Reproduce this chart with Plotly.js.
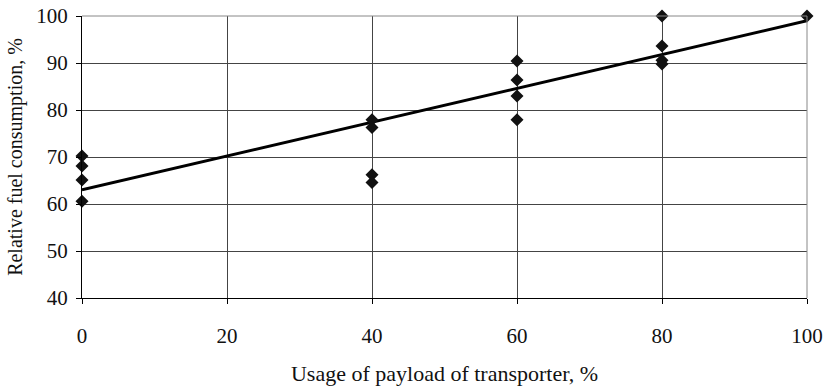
<!DOCTYPE html>
<html>
<head>
<meta charset="utf-8">
<script src="https://cdn.plot.ly/plotly-3.0.1.min.js"></script>
<style>
  html, body { margin: 0; padding: 0; background: #fff; }
  #chart { width: 824px; height: 386px; }
</style>
</head>
<body>
<div id="chart"></div>
<script>
// Measured points: payload usage (%) vs relative fuel consumption (%)
var payloadUsage = [0, 0, 0, 0, 40, 40, 40, 40, 60, 60, 60, 60, 80, 80, 80, 80, 100];
var fuelConsumption = [70.2, 68.1, 65.1, 60.6, 77.9, 76.3, 66.2, 64.6, 90.4, 86.4, 83.0, 77.9, 100, 93.6, 90.6, 89.8, 100];

// Linear trend line endpoints
var trendX = [0, 100];
var trendY = [63.0, 99.0];

// Axis ticks
var xTicks = [0, 20, 40, 60, 80, 100];
var yTicks = [40, 50, 60, 70, 80, 90, 100];

var serif = "Liberation Serif, Times New Roman, serif";

var traces = [
  {
    x: trendX, y: trendY, type: "scatter", mode: "lines",
    line: { color: "#000", width: 3 }, hoverinfo: "skip", cliponaxis: false
  },
  {
    x: payloadUsage, y: fuelConsumption, type: "scatter", mode: "markers",
    marker: { symbol: "diamond", size: 10, color: "#111" }, cliponaxis: false
  }
];

var layout = {
  width: 824, height: 386,
  margin: { l: 82, r: 17, t: 16, b: 88 },
  paper_bgcolor: "#fff", plot_bgcolor: "#fff",
  showlegend: false,
  font: { family: serif, size: 21, color: "#111" },
  xaxis: {
    range: [0, 100], tickvals: xTicks, ticktext: xTicks.map(String),
    showgrid: true, gridcolor: "#444", gridwidth: 1,
    showline: true, linecolor: "#000", linewidth: 1, mirror: false,
    ticks: "outside", ticklen: 5, tickcolor: "#000", ticklabelstandoff: 14,
    zeroline: false,
    title: { text: "Usage of payload of transporter, %", standoff: 22, font: { family: serif, size: 22 } }
  },
  yaxis: {
    range: [40, 100], tickvals: yTicks, ticktext: yTicks.map(String),
    showgrid: true, gridcolor: "#444", gridwidth: 1,
    showline: true, linecolor: "#000", linewidth: 1,
    ticks: "outside", ticklen: 5, tickcolor: "#000", ticklabelstandoff: 4,
    zeroline: false,
    title: { text: "Relative fuel consumption, %", standoff: 8, font: { family: serif, size: 20 } }
  },
  shapes: [
    { type: "line", xref: "paper", yref: "paper", x0: 1, x1: 1, y0: 0, y1: 1, line: { color: "#888", width: 1 } },
    { type: "line", xref: "paper", yref: "paper", x0: 0, x1: 1, y0: 1, y1: 1, line: { color: "#888", width: 1 } }
  ]
};

Plotly.newPlot("chart", traces, layout, { displayModeBar: false, staticPlot: true });
</script>
</body>
</html>
